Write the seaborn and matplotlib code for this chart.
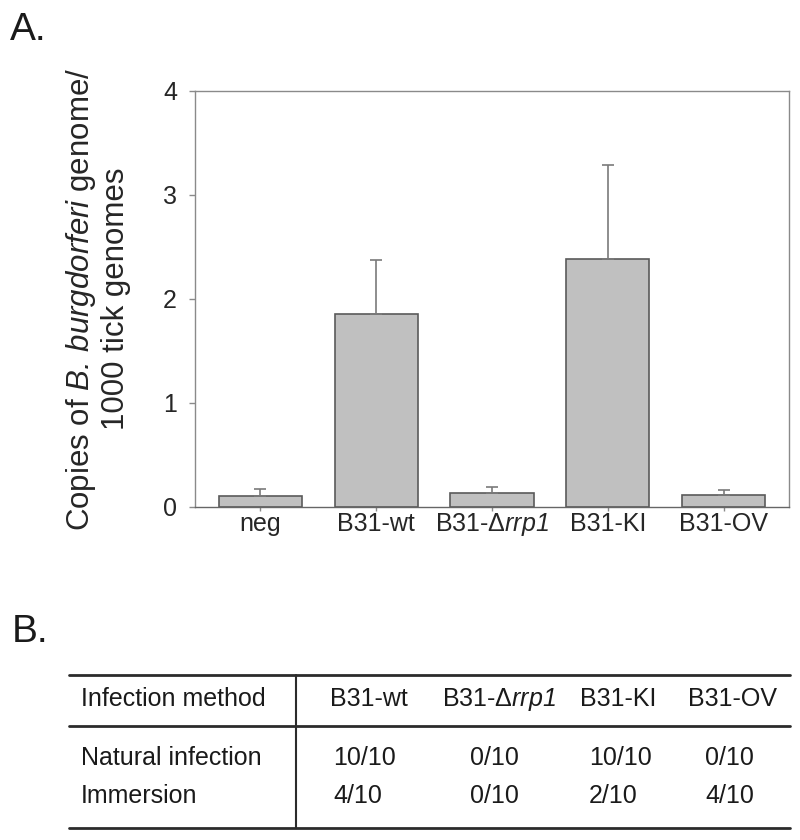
import numpy as np
import matplotlib
matplotlib.use('Agg')
import matplotlib.pyplot as plt
import seaborn as sns

# datos del panel A
cepas = ['neg', 'B31-wt', 'B31-Δ$\\mathsf{rrp1}$', 'B31-KI', 'B31-OV']
copias = [0.105, 1.855, 0.13, 2.385, 0.12]
error_sup = [0.07, 0.52, 0.065, 0.90, 0.048]

# datos del panel B
columnas = ['B31-wt', 'B31-Δ$\\mathsf{rrp1}$', 'B31-KI', 'B31-OV']
filas = ['Natural infection', 'Immersion']
natural = ['10/10', '0/10', '10/10', '0/10']
inmersion = ['4/10', '0/10', '2/10', '4/10']

sns.set_theme(style='white')
plt.rcParams['font.family'] = ['Liberation Sans', 'DejaVu Sans']
plt.rcParams['mathtext.fontset'] = 'custom'
plt.rcParams['mathtext.rm'] = 'Liberation Sans'
plt.rcParams['mathtext.it'] = 'Liberation Sans:italic'
# sf -> cursiva (para que los digitos tambien salgan en cursiva)
plt.rcParams['mathtext.sf'] = 'Liberation Sans:italic'
plt.rcParams['text.color'] = '#1a1a1a'

fig = plt.figure(figsize=(8, 8.4), dpi=100)
ax = fig.add_axes([195/800, 1 - 507/840, 594/800, 416/840])

sns.barplot(x=cepas, y=copias, color='#c0c0c0', saturation=1,
            edgecolor='#5a5a5a', linewidth=1.2, width=0.72,
            errorbar=None, ax=ax)
ax.errorbar(np.arange(len(cepas)), copias,
            yerr=[np.zeros(len(cepas)), error_sup],
            fmt='none', ecolor='#7a7a7a', elinewidth=1.2, capsize=4, capthick=1.2)

ax.set_xlim(-0.565, 4.565)
ax.set_ylim(0, 4)
ax.set_yticks([0, 1, 2, 3, 4])
for s in ax.spines.values():
    s.set_color('#8a8a8a')
    s.set_linewidth(1)
ax.spines['bottom'].set_color('#666666')
ax.tick_params(axis='y', direction='out', length=4, width=1, color='#8a8a8a',
               labelsize=18, pad=9, left=True)
ax.tick_params(axis='x', direction='out', length=3, width=1, color='#8a8a8a',
               labelsize=18, pad=14.5, bottom=True)
# misma linea base para todas las etiquetas (la de mathtext bajaba)
for t in ax.get_xticklabels():
    t.set_verticalalignment('baseline')
ax.set_ylabel('Copies of $\\mathsf{B.\\,burgdorferi}$ genome/\n1000 tick genomes',
              fontsize=22.5, linespacing=1.15)
ax.yaxis.set_label_coords(-0.107, 0.5)

fig.text(10/800, 1 - 40/840, 'A.', fontsize=28, va='baseline')
fig.text(12/800, 1 - 642/840, 'B.', fontsize=28, va='baseline')

# tabla (panel B) en coordenadas de pixel
tb = fig.add_axes([0, 0, 1, 240/840])
tb.set_xlim(0, 800)
tb.set_ylim(840, 600)
tb.axis('off')
for yy in [675, 726, 828]:
    tb.plot([69, 790], [yy, yy], color='#2b2b2b', lw=2)
tb.plot([296, 296], [675, 828], color='#2b2b2b', lw=1.5)

x_cab = [369, 499, 618, 732]
x_val = [333, 470, 589, 705]
tb.text(81, 706, 'Infection method', fontsize=18, va='baseline')
for x, c in zip(x_cab, columnas):
    tb.text(x, 706, c, fontsize=18, ha='center', va='baseline')
for yy, nombre, vals in zip([765, 803], filas, [natural, inmersion]):
    tb.text(81, yy, nombre, fontsize=18, va='baseline')
    for x, v in zip(x_val, vals):
        tb.text(x, yy, v, fontsize=18, va='baseline')

fig.savefig('out.png', dpi=100)
